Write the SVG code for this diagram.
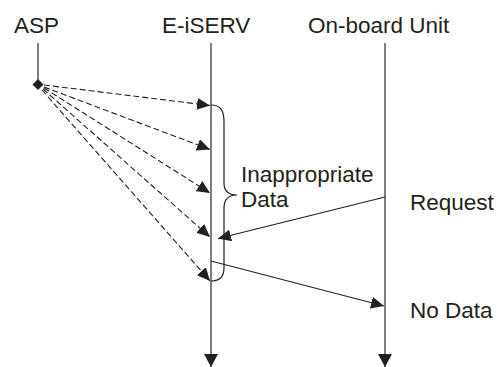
<svg xmlns="http://www.w3.org/2000/svg" width="504" height="367" viewBox="0 0 504 367">
  <style>
    .label { font-family: "Liberation Sans", Arial, Helvetica, sans-serif; font-size: 22.5px; fill: #231f20; }
    .lifeline { stroke: #3a3a3a; stroke-width: 1.3; fill: none; }
    .msg { stroke: #231f20; stroke-width: 1.1; fill: none; }
    .dashed { stroke: #231f20; stroke-width: 1.1; fill: none; stroke-dasharray: 6 3; }
    .brace { stroke: #231f20; stroke-width: 1.2; fill: none; }
  </style>
  <defs>
    <marker id="head" markerUnits="userSpaceOnUse" markerWidth="14" markerHeight="12" refX="13" refY="6" orient="auto">
      <path d="M0,0 L13,6 L0,12 Z" fill="#231f20"/>
    </marker>
    <marker id="end" markerUnits="userSpaceOnUse" markerWidth="14" markerHeight="14" refX="13" refY="7" orient="auto">
      <path d="M0,0 L13,7 L0,14 Z" fill="#231f20"/>
    </marker>
  </defs>

  <!-- participants -->
  <g id="asp">
    <text class="label" x="14" y="32.5">ASP</text>
    <line class="lifeline" x1="38" y1="43" x2="38" y2="84"/>
    <path d="M38,79 L43.5,84.5 L38,90 L32.5,84.5 Z" fill="#231f20"/>
  </g>
  <g id="e-iserv">
    <text class="label" x="162" y="32.5">E-iSERV</text>
    <line class="lifeline" x1="211" y1="43" x2="211" y2="367" marker-end="url(#end)"/>
  </g>
  <g id="onboard-unit">
    <text class="label" x="308" y="32.5">On-board Unit</text>
    <line class="lifeline" x1="385" y1="43" x2="385" y2="367" marker-end="url(#end)"/>
  </g>

  <!-- messages -->
  <g id="connectors">
    <line class="dashed" x1="44" y1="85" x2="210" y2="105.5" marker-end="url(#head)"/>
    <line class="dashed" x1="44" y1="87" x2="210" y2="149.5" marker-end="url(#head)"/>
    <line class="dashed" x1="44" y1="88" x2="210" y2="193" marker-end="url(#head)"/>
    <line class="dashed" x1="43" y1="89" x2="210" y2="237" marker-end="url(#head)"/>
    <line class="dashed" x1="42" y1="90" x2="210" y2="281" marker-end="url(#head)"/>
    <line class="msg" x1="385" y1="197" x2="218" y2="238.5" marker-end="url(#head)"/>
    <line class="msg" x1="211" y1="261" x2="384" y2="306" marker-end="url(#head)"/>
  </g>

  <!-- grouping brace and notes -->
  <g id="brace">
    <path class="brace" d="M211,105 C221,105 224,111 224,122 L224,183 C224,191 228,195 237,195 C228,195 224,200 224,208 L224,268 C224,277 220,281 211,281"/>
    <text class="label" x="241" y="182">Inappropriate</text>
    <text class="label" x="241" y="207">Data</text>
  </g>
  <g id="request-label">
    <text class="label" x="410" y="210">Request</text>
  </g>
  <g id="nodata-label">
    <text class="label" x="410" y="318">No Data</text>
  </g>
</svg>
